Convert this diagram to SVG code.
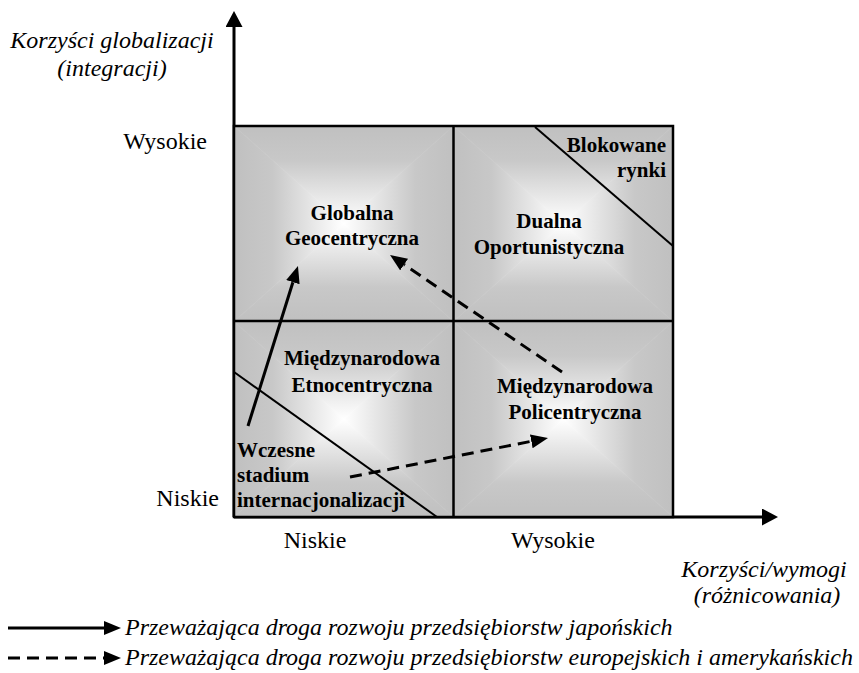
<svg xmlns="http://www.w3.org/2000/svg" xmlns:xlink="http://www.w3.org/1999/xlink" width="859" height="673" viewBox="0 0 859 673">
  <style>
    text { font-family: "Liberation Serif", "Times New Roman", serif; fill: #000; }
    .axis-title { font-size: 24px; font-style: italic; }
    .level { font-size: 24px; }
    .cell { font-size: 21px; font-weight: bold; }
    .legend { font-size: 24px; font-style: italic; }
    .frame { fill: none; stroke: #000; stroke-width: 2.5; }
    .split { stroke: #000; stroke-width: 2.5; }
    .axis { stroke: #000; stroke-width: 3; fill: none; }
    .bound { stroke: #000; stroke-width: 2; }
    .path-solid { stroke: #000; stroke-width: 3; fill: none; }
    .path-dash { stroke: #000; stroke-width: 3; fill: none; stroke-dasharray: 12 7; }
  </style>
  <defs>
    <!-- edge-to-centre shading for one matrix cell, split into four triangles -->
    <linearGradient id="gTop" x1="0" y1="0" x2="0" y2="1">
      <stop offset="0" stop-color="#c0c0c0"/>
      <stop offset="0.35" stop-color="#c8c8c8"/>
      <stop offset="1" stop-color="#ffffff"/>
    </linearGradient>
    <linearGradient id="gBottom" x1="0" y1="1" x2="0" y2="0">
      <stop offset="0" stop-color="#c0c0c0"/>
      <stop offset="0.35" stop-color="#c8c8c8"/>
      <stop offset="1" stop-color="#ffffff"/>
    </linearGradient>
    <linearGradient id="gLeft" x1="0" y1="0" x2="1" y2="0">
      <stop offset="0" stop-color="#c0c0c0"/>
      <stop offset="0.35" stop-color="#c8c8c8"/>
      <stop offset="1" stop-color="#ffffff"/>
    </linearGradient>
    <linearGradient id="gRight" x1="1" y1="0" x2="0" y2="0">
      <stop offset="0" stop-color="#c0c0c0"/>
      <stop offset="0.35" stop-color="#c8c8c8"/>
      <stop offset="1" stop-color="#ffffff"/>
    </linearGradient>
    <g id="cellShade">
      <polygon points="0,0 219.5,0 109.75,97.75" fill="url(#gTop)" stroke="url(#gTop)" stroke-width="0.6"/>
      <polygon points="0,195.5 219.5,195.5 109.75,97.75" fill="url(#gBottom)" stroke="url(#gBottom)" stroke-width="0.6"/>
      <polygon points="0,0 0,195.5 109.75,97.75" fill="url(#gLeft)" stroke="url(#gLeft)" stroke-width="0.6"/>
      <polygon points="219.5,0 219.5,195.5 109.75,97.75" fill="url(#gRight)" stroke="url(#gRight)" stroke-width="0.6"/>
    </g>
    <marker id="head" markerUnits="userSpaceOnUse" markerWidth="18" markerHeight="16" refX="0" refY="7" orient="auto">
      <path d="M0,0 L17,7 L0,14 Z" fill="#000"/>
    </marker>
    <marker id="axisHead" markerUnits="userSpaceOnUse" markerWidth="18" markerHeight="18" refX="0" refY="8.5" orient="auto">
      <path d="M0,0 L16,8.5 L0,17 Z" fill="#000"/>
    </marker>
  </defs>

  <!-- axes -->
  <g id="axes">
    <line class="axis" x1="234" y1="517" x2="234" y2="27" marker-end="url(#axisHead)"/>
    <line class="axis" x1="234" y1="517" x2="762" y2="517" marker-end="url(#axisHead)"/>
    <text class="axis-title" x="112" y="48" text-anchor="middle">Korzyści globalizacji</text>
    <text class="axis-title" x="112" y="76" text-anchor="middle">(integracji)</text>
    <text class="level" x="207" y="149" text-anchor="end">Wysokie</text>
    <text class="level" x="219" y="506" text-anchor="end">Niskie</text>
    <text class="level" x="315" y="548" text-anchor="middle">Niskie</text>
    <text class="level" x="553" y="548" text-anchor="middle">Wysokie</text>
    <text class="axis-title" x="764" y="577" text-anchor="middle">Korzyści/wymogi</text>
    <text class="axis-title" x="767" y="603" text-anchor="middle">(różnicowania)</text>
  </g>

  <!-- matrix cells -->
  <g id="q-global">
    <use xlink:href="#cellShade" x="234" y="126"/>
    <text class="cell" x="352" y="220" text-anchor="middle">Globalna</text>
    <text class="cell" x="352" y="245" text-anchor="middle">Geocentryczna</text>
  </g>
  <g id="q-dual">
    <use xlink:href="#cellShade" x="453.5" y="126"/>
    <text class="cell" x="549" y="228" text-anchor="middle">Dualna</text>
    <text class="cell" x="549" y="254" text-anchor="middle">Oportunistyczna</text>
  </g>
  <g id="q-intl">
    <use xlink:href="#cellShade" x="234" y="321.5"/>
    <text class="cell" x="362" y="365" text-anchor="middle">Międzynarodowa</text>
    <text class="cell" x="362" y="392" text-anchor="middle">Etnocentryczna</text>
  </g>
  <g id="q-poly">
    <use xlink:href="#cellShade" x="453.5" y="321.5"/>
    <text class="cell" x="575" y="393" text-anchor="middle">Międzynarodowa</text>
    <text class="cell" x="575" y="419" text-anchor="middle">Policentryczna</text>
  </g>

  <!-- grid lines of the matrix -->
  <g id="grid">
    <rect class="frame" x="234" y="126" width="439" height="391"/>
    <line class="split" x1="453.5" y1="126" x2="453.5" y2="517"/>
    <line class="split" x1="234" y1="321" x2="673" y2="321"/>
  </g>

  <!-- corner zones -->
  <g id="blocked-markets">
    <line class="bound" x1="535" y1="127" x2="673" y2="246"/>
    <text class="cell" x="666" y="152" text-anchor="end">Blokowane</text>
    <text class="cell" x="666" y="177" text-anchor="end">rynki</text>
  </g>
  <g id="early-stage">
    <line class="bound" x1="234" y1="372" x2="437" y2="517"/>
    <text class="cell" x="237" y="457">Wczesne</text>
    <text class="cell" x="237" y="482">stadium</text>
    <text class="cell" x="237" y="507">internacjonalizacji</text>
  </g>

  <!-- development paths -->
  <g id="connectors">
    <line class="path-solid" x1="248" y1="426" x2="292.9" y2="282.2" marker-end="url(#head)"/>
    <line class="path-dash" x1="562" y1="372" x2="404.1" y2="264.6" marker-end="url(#head)"/>
    <line class="path-dash" x1="350" y1="477" x2="531.3" y2="441.3" marker-end="url(#head)"/>
  </g>

  <!-- legend -->
  <g id="legend">
    <line class="path-solid" x1="8" y1="628" x2="104" y2="628" marker-end="url(#head)"/>
    <line class="path-dash" x1="8" y1="658" x2="104" y2="658" marker-end="url(#head)"/>
    <text class="legend" x="125" y="635">Przeważająca droga rozwoju przedsiębiorstw japońskich</text>
    <text class="legend" x="125" y="665">Przeważająca droga rozwoju przedsiębiorstw europejskich i amerykańskich</text>
  </g>
</svg>
